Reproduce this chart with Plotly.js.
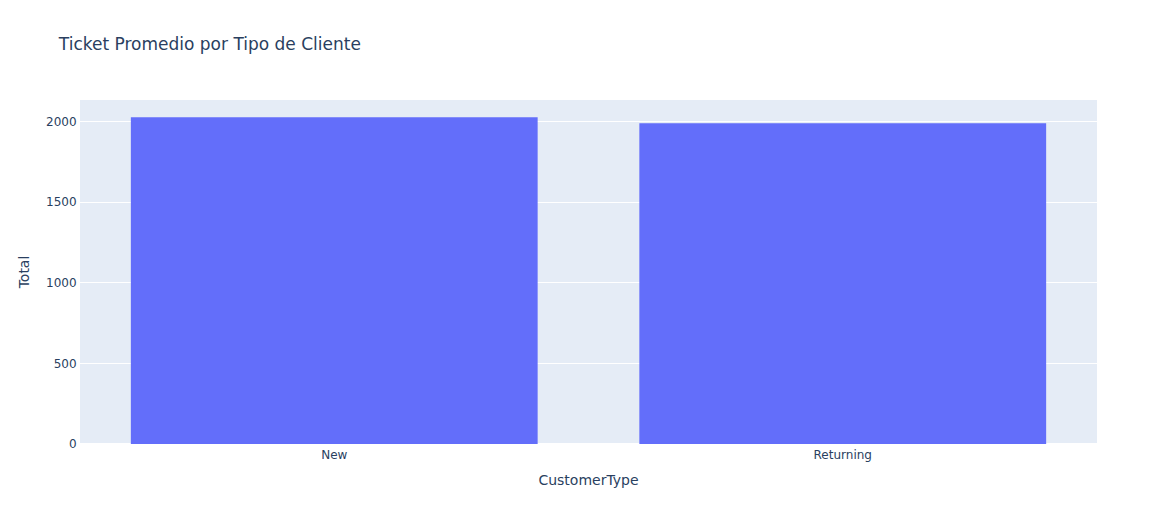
<!DOCTYPE html>
<html>
<head>
<meta charset="utf-8">
<script src="https://cdn.plot.ly/plotly-3.0.1.min.js"></script>
<style>html,body{margin:0;padding:0;}#chart{width:1176px;height:525px;}</style>
</head>
<body>
<div id="chart"></div>
<script>
const customerTypes = ["New", "Returning"];
const totals = [2028, 1991];

const data = [{
  type: "bar",
  x: customerTypes,
  y: totals,
  marker: {color: "#636efa"}
}];

const layout = {
  template: {},
  title: {text: "Ticket Promedio por Tipo de Cliente", x: 0.05, font: {size: 17, color: "#2a3f5f"}},
  paper_bgcolor: "white",
  plot_bgcolor: "#E5ECF6",
  font: {family: '"DejaVu Sans", verdana, arial, sans-serif', size: 12, color: "#2a3f5f"},
  xaxis: {title: {text: "CustomerType", standoff: 13}, automargin: true, showgrid: false, linecolor: "white", ticks: ""},
  yaxis: {title: {text: "Total", standoff: 13}, automargin: true, gridcolor: "white", linecolor: "white", zerolinecolor: "white", zerolinewidth: 2, ticks: ""},
  margin: {l: 80, r: 79, t: 100, b: 81},
  width: 1176,
  height: 525
};

Plotly.newPlot("chart", data, layout, {displayModeBar: false});
</script>
</body>
</html>
